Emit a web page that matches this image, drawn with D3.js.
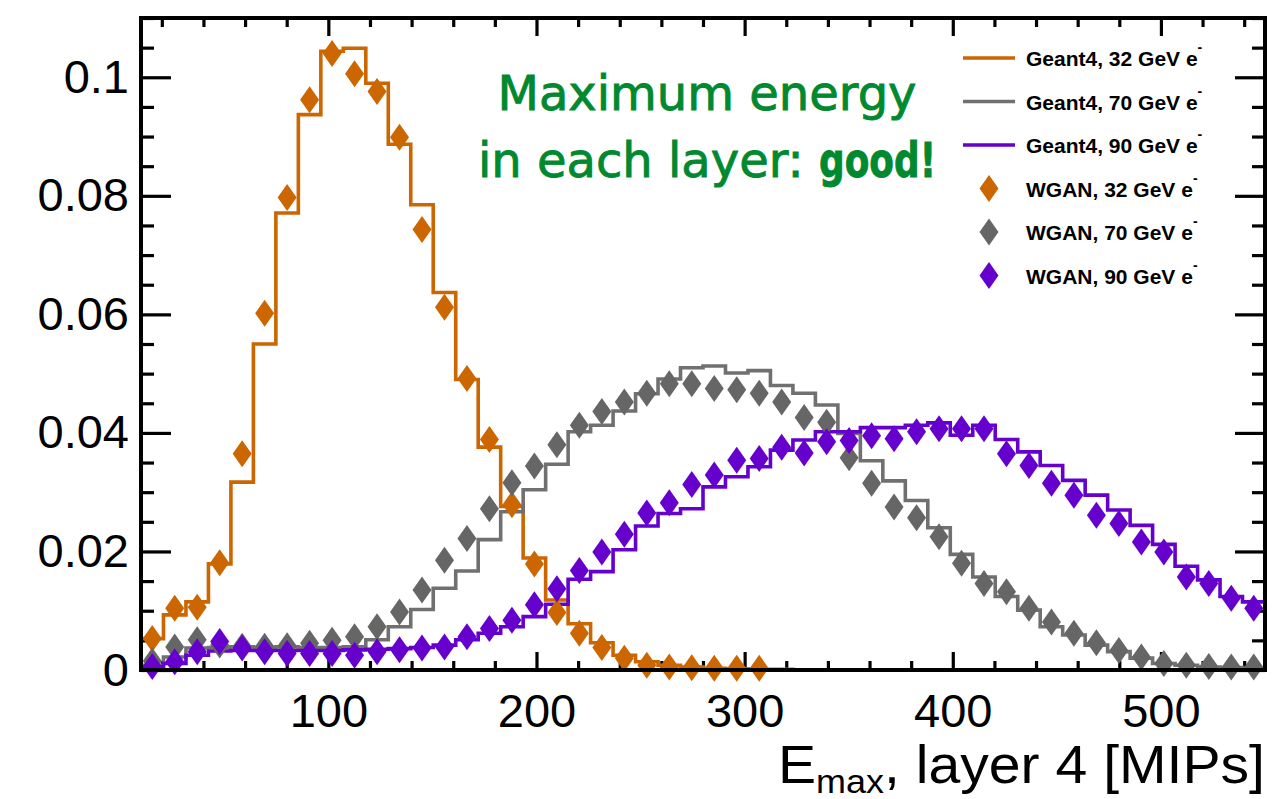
<!DOCTYPE html>
<html>
<head>
<meta charset="utf-8">
<script src="https://cdn.jsdelivr.net/npm/d3@7"></script>
<style>
  body { margin: 0; background: #fff; }
  svg { display: block; }
</style>
</head>
<body>
<script>
// binning: 50 bins from 10 to 550 MIPs
var xMin = 10, xMax = 550, nBins = 50;

// Geant4 histograms (normalised)
var g4_32 = [0.0053, 0.0093, 0.0115, 0.0179, 0.0317, 0.0550, 0.0771, 0.0937, 0.1044, 0.1049,
             0.0990, 0.0887, 0.0785, 0.0637, 0.0490, 0.0376, 0.0276, 0.0189, 0.0118, 0.0078,
             0.0046, 0.0025, 0.0014, 0.0008, 0.0005, 0.0003, 0.0002, 0.0001, 0.0001, 0,
             0, 0, 0, 0, 0, 0, 0, 0, 0, 0,
             0, 0, 0, 0, 0, 0, 0, 0, 0, 0];
var g4_70 = [0.0008, 0.0022, 0.0037, 0.0038, 0.0039, 0.0038, 0.0039, 0.0038, 0.0038, 0.0039,
             0.0051, 0.0073, 0.0102, 0.0138, 0.0167, 0.0220, 0.0267, 0.0304, 0.0347, 0.0402,
             0.0413, 0.0437, 0.0466, 0.0491, 0.0510, 0.0513, 0.0501, 0.0505, 0.0480, 0.0467,
             0.0447, 0.0399, 0.0353, 0.0319, 0.0286, 0.0240, 0.0195, 0.0157, 0.0124, 0.0101,
             0.0073, 0.0059, 0.0042, 0.0031, 0.0020, 0.0011, 0.0008, 0.0005, 0.0004, 0.0003];
var g4_90 = [0.0005, 0.0011, 0.0025, 0.0032, 0.0033, 0.0033, 0.0033, 0.0033, 0.0033, 0.0034,
             0.0035, 0.0036, 0.0038, 0.0042, 0.0051, 0.0062, 0.0073, 0.0090, 0.0111, 0.0153,
             0.0166, 0.0203, 0.0243, 0.0264, 0.0272, 0.0309, 0.0326, 0.0343, 0.0371, 0.0388,
             0.0402, 0.0402, 0.0409, 0.0409, 0.0413, 0.0417, 0.0396, 0.0413, 0.0389, 0.0368,
             0.0345, 0.0320, 0.0295, 0.0270, 0.0244, 0.0212, 0.0175, 0.0152, 0.0124, 0.0115];

// WGAN points (bin centres)
var wgan_32 = [0.0053, 0.0104, 0.0106, 0.0181, 0.0365, 0.0602, 0.0797, 0.0962, 0.1040, 0.1006,
               0.0976, 0.0899, 0.0743, 0.0612, 0.0492, 0.0389, 0.0279, 0.0179, 0.0097, 0.0062,
               0.0038, 0.0020, 0.0008, 0.0005, 0.0004, 0.0003, 0.0003, 0.0003];
var wgan_70 = [0.0015, 0.0039, 0.0051, 0.0042, 0.0040, 0.0040, 0.0041, 0.0045, 0.0050, 0.0056,
               0.0073, 0.0098, 0.0135, 0.0185, 0.0222, 0.0272, 0.0316, 0.0344, 0.0380, 0.0413,
               0.0436, 0.0452, 0.0467, 0.0483, 0.0483, 0.0475, 0.0473, 0.0467, 0.0452, 0.0426,
               0.0418, 0.0358, 0.0315, 0.0275, 0.0257, 0.0225, 0.0180, 0.0146, 0.0132, 0.0104,
               0.0081, 0.0062, 0.0046, 0.0033, 0.0022, 0.0011, 0.0008, 0.0006, 0.0005, 0.0005];
var wgan_90 = [0.0006, 0.0014, 0.0031, 0.0048, 0.0037, 0.0031, 0.0028, 0.0028, 0.0028, 0.0025,
               0.0031, 0.0034, 0.0037, 0.0039, 0.0056, 0.0070, 0.0084, 0.0110, 0.0137, 0.0168,
               0.0199, 0.0229, 0.0265, 0.0282, 0.0313, 0.0329, 0.0354, 0.0357, 0.0376, 0.0366,
               0.0385, 0.0387, 0.0395, 0.0390, 0.0402, 0.0407, 0.0407, 0.0407, 0.0365, 0.0345,
               0.0315, 0.0295, 0.0261, 0.0247, 0.0216, 0.0199, 0.0157, 0.0146, 0.0121, 0.0104];

var xMajor = [100, 200, 300, 400, 500];
var yMajor = [0, 0.02, 0.04, 0.06, 0.08, 0.1];
var yLabels = ["0", "0.02", "0.04", "0.06", "0.08", "0.1"];

var legendNames = ["Geant4, 32 GeV e", "Geant4, 70 GeV e", "Geant4, 90 GeV e",
                   "WGAN, 32 GeV e", "WGAN, 70 GeV e", "WGAN, 90 GeV e"];

var cOrange = "#cc6600", cGray = "#666666", cPurple = "#6600cc";

function init() {
  var w = 1274, h = 799;
  var left = 141, right = 1265, top = 18, bottom = 670;

  var svg = d3.select("body").append("svg")
    .attr("width", w).attr("height", h);

  var x = d3.scaleLinear().domain([xMin, xMax]).range([left, right]);
  var y = d3.scaleLinear().domain([0, 0.11]).range([bottom, top]);

  var binW = (xMax - xMin) / nBins;
  var edges = d3.range(nBins + 1).map(function(i) { return xMin + i * binW; });
  var centres = d3.range(nBins).map(function(i) { return xMin + (i + 0.5) * binW; });

  // ticks, all inside the frame (ROOT style)
  var xMinor = d3.range(20, 550, 20).filter(function(v) { return v % 100 != 0; });
  var yMinor = d3.range(0, 0.1101, 0.005).filter(function(v) { return Math.abs(v / 0.02 - Math.round(v / 0.02)) > 1e-6; });

  var axisStyle = function(g) {
    g.select(".domain").remove();
    g.selectAll("line").attr("stroke", "#000").attr("stroke-width", 3.2);
    g.selectAll("text").attr("font-family", "'Liberation Sans', Arial, Helvetica, sans-serif")
      .attr("font-size", 47).attr("fill", "#000");
  };

  svg.append("g").attr("transform", "translate(0," + bottom + ")")
    .call(d3.axisBottom(x).tickValues(xMajor).tickSize(-18).tickPadding(24).tickFormat(d3.format("d")))
    .call(axisStyle);
  svg.append("g").attr("transform", "translate(0," + bottom + ")")
    .call(d3.axisBottom(x).tickValues(xMinor).tickSize(-9).tickFormat(""))
    .call(axisStyle);
  svg.append("g").attr("transform", "translate(0," + top + ")")
    .call(d3.axisTop(x).tickValues(xMajor).tickSize(-18).tickFormat(""))
    .call(axisStyle);
  svg.append("g").attr("transform", "translate(0," + top + ")")
    .call(d3.axisTop(x).tickValues(xMinor).tickSize(-9).tickFormat(""))
    .call(axisStyle);

  svg.append("g").attr("transform", "translate(" + left + ",0)")
    .call(d3.axisLeft(y).tickValues(yMajor).tickSize(-30).tickPadding(12)
      .tickFormat(function(d, i) { return yLabels[i]; }))
    .call(axisStyle);
  svg.append("g").attr("transform", "translate(" + left + ",0)")
    .call(d3.axisLeft(y).tickValues(yMinor).tickSize(-13).tickFormat(""))
    .call(axisStyle);
  svg.append("g").attr("transform", "translate(" + right + ",0)")
    .call(d3.axisRight(y).tickValues(yMajor).tickSize(-30).tickFormat(""))
    .call(axisStyle);
  svg.append("g").attr("transform", "translate(" + right + ",0)")
    .call(d3.axisRight(y).tickValues(yMinor).tickSize(-13).tickFormat(""))
    .call(axisStyle);

  // histograms
  var line = d3.line()
    .x(function(d) { return x(d[0]); })
    .y(function(d) { return y(d[1]); })
    .curve(d3.curveStepAfter);

  function histPts(vals) {
    var pts = [[edges[0], 0]];
    vals.forEach(function(v, i) { pts.push([edges[i], v]); });
    pts.push([edges[nBins], vals[nBins - 1]]);
    return pts;
  }

  [[g4_32, cOrange], [g4_70, "#707070"], [g4_90, cPurple]].forEach(function(s) {
    svg.append("path")
      .attr("d", line(histPts(s[0])))
      .attr("fill", "none")
      .attr("stroke", s[1])
      .attr("stroke-width", 3.6);
  });

  // diamond markers
  var dw = 9.5, dh = 13.5;
  var diamond = "M0," + (-dh) + "L" + dw + ",0L0," + dh + "L" + (-dw) + ",0Z";

  [[wgan_32, cOrange], [wgan_70, cGray], [wgan_90, cPurple]].forEach(function(s) {
    svg.append("g").selectAll("path")
      .data(s[0])
      .enter()
      .append("path")
      .attr("d", diamond)
      .attr("transform", function(d, i) { return "translate(" + x(centres[i]) + "," + y(d) + ")"; })
      .attr("fill", s[1]);
  });

  // frame
  svg.append("rect")
    .attr("x", left).attr("y", top)
    .attr("width", right - left).attr("height", bottom - top)
    .attr("fill", "none").attr("stroke", "#000").attr("stroke-width", 4);

  // x axis title
  var xt = svg.append("text")
    .attr("x", right).attr("y", 783)
    .attr("text-anchor", "end")
    .attr("font-family", "'Liberation Sans', Arial, Helvetica, sans-serif")
    .attr("font-size", 54)
    .attr("textLength", 487)
    .attr("lengthAdjust", "spacingAndGlyphs");
  xt.append("tspan").text("E");
  xt.append("tspan").attr("font-size", 34).attr("dy", 10).text("max");
  xt.append("tspan").attr("dy", -10).text(", layer 4 [MIPs]");

  // annotation
  var ann = svg.append("g")
    .attr("font-family", "'DejaVu Sans', sans-serif")
    .attr("font-size", 48)
    .attr("fill", "#00892e")
    .attr("stroke", "#00892e")
    .attr("stroke-width", 0.9)
    .attr("text-anchor", "middle");
  ann.append("text").attr("x", 707).attr("y", 110).text("Maximum energy");
  var a2 = ann.append("text").attr("x", 707).attr("y", 177);
  a2.append("tspan").text("in each layer: ");
  a2.append("tspan").attr("font-weight", "bold")
    .attr("textLength", 117).attr("lengthAdjust", "spacingAndGlyphs").text("good!");

  // legend
  var rows = [58, 101.5, 145, 188.5, 232, 275.5];
  var legColors = [cOrange, "#707070", cPurple, cOrange, cGray, cPurple];
  var leg = svg.append("g")
    .attr("font-family", "'Liberation Sans', Arial, Helvetica, sans-serif")
    .attr("font-weight", "bold")
    .attr("font-size", 21);
  legendNames.forEach(function(name, i) {
    if (i < 3) {
      leg.append("line")
        .attr("x1", 963).attr("x2", 1015)
        .attr("y1", rows[i]).attr("y2", rows[i])
        .attr("stroke", legColors[i]).attr("stroke-width", 3.6);
    } else {
      leg.append("path")
        .attr("d", diamond)
        .attr("transform", "translate(989," + rows[i] + ")")
        .attr("fill", legColors[i]);
    }
    var t = leg.append("text").attr("x", 1026).attr("y", rows[i] + 8).attr("fill", "#000");
    t.append("tspan").text(name);
    t.append("tspan").attr("font-size", 14).attr("dy", -14).text("-");
  });
}
window.onload = init;
</script>
</body>
</html>
